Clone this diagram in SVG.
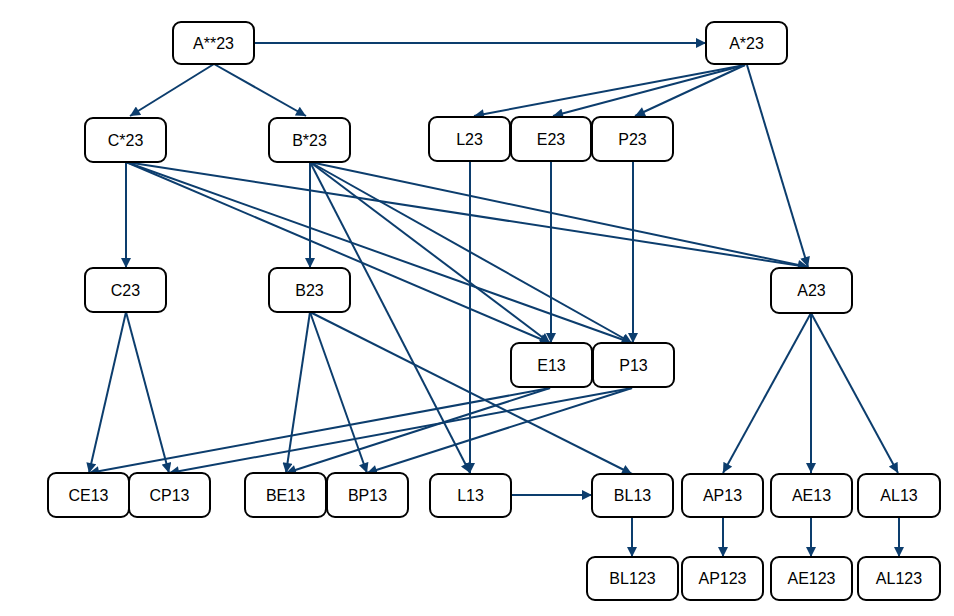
<svg xmlns="http://www.w3.org/2000/svg" width="954" height="616" viewBox="0 0 954 616">
<defs>
<marker id="ah" viewBox="0 0 10 10" refX="10" refY="5" markerWidth="11" markerHeight="10" markerUnits="userSpaceOnUse" orient="auto">
<path d="M0,0 L10,5 L0,10 z" fill="#0c3d6d"/>
</marker>
<style>
.n rect{fill:#fff;stroke:#000;stroke-width:2}
.n text{font-family:"Liberation Sans",Arial,sans-serif;font-size:16px;fill:#000;text-anchor:middle;dominant-baseline:central}
#edges line{stroke:#0c3d6d;stroke-width:2;marker-end:url(#ah)}
</style>
</defs>
<rect width="954" height="616" fill="#fff"/>
<g id="edges">
<line x1="254" y1="43" x2="706" y2="43"/>
<line x1="214" y1="64" x2="130" y2="116"/>
<line x1="214" y1="64" x2="306" y2="116"/>
<line x1="745" y1="65" x2="474" y2="116"/>
<line x1="745" y1="65" x2="553" y2="116"/>
<line x1="745" y1="65" x2="635" y2="116"/>
<line x1="747" y1="65" x2="808" y2="267"/>
<line x1="126" y1="162" x2="126" y2="268"/>
<line x1="126" y1="162" x2="808" y2="267"/>
<line x1="126" y1="162" x2="550" y2="343"/>
<line x1="126" y1="162" x2="632" y2="343"/>
<line x1="310" y1="162" x2="310" y2="268"/>
<line x1="310" y1="162" x2="808" y2="267"/>
<line x1="310" y1="162" x2="550" y2="343"/>
<line x1="310" y1="162" x2="632" y2="343"/>
<line x1="310" y1="162" x2="470" y2="473"/>
<line x1="470" y1="162" x2="470" y2="473"/>
<line x1="551" y1="162" x2="551" y2="343"/>
<line x1="633" y1="162" x2="633" y2="343"/>
<line x1="126" y1="312" x2="89" y2="473"/>
<line x1="126" y1="312" x2="169" y2="473"/>
<line x1="310" y1="312" x2="286" y2="473"/>
<line x1="310" y1="312" x2="367" y2="473"/>
<line x1="310" y1="312" x2="632" y2="474"/>
<line x1="550" y1="388" x2="89" y2="473"/>
<line x1="550" y1="388" x2="286" y2="473"/>
<line x1="632" y1="388" x2="169" y2="473"/>
<line x1="632" y1="388" x2="367" y2="473"/>
<line x1="811" y1="313" x2="723" y2="473"/>
<line x1="811" y1="313" x2="811" y2="473"/>
<line x1="811" y1="313" x2="898" y2="473"/>
<line x1="511" y1="495" x2="592" y2="495"/>
<line x1="632" y1="517" x2="632" y2="557"/>
<line x1="723" y1="517" x2="723" y2="557"/>
<line x1="811" y1="517" x2="811" y2="557"/>
<line x1="899" y1="517" x2="899" y2="557"/>
</g>
<g id="A2star2_23" class="n"><rect x="173" y="22" width="81" height="42" rx="8"/><text x="213.5" y="43">A**23</text></g>
<g id="Astar23" class="n"><rect x="706" y="22" width="81" height="42" rx="8"/><text x="746.5" y="43">A*23</text></g>
<g id="Cstar23" class="n"><rect x="85" y="118" width="81" height="44" rx="8"/><text x="125.5" y="140">C*23</text></g>
<g id="Bstar23" class="n"><rect x="269" y="118" width="81" height="44" rx="8"/><text x="309.5" y="140">B*23</text></g>
<g id="L23" class="n"><rect x="429" y="117" width="81" height="44" rx="8"/><text x="469.5" y="139">L23</text></g>
<g id="E23" class="n"><rect x="511" y="117" width="80" height="44" rx="8"/><text x="551" y="139">E23</text></g>
<g id="P23" class="n"><rect x="592" y="117" width="81" height="44" rx="8"/><text x="632.5" y="139">P23</text></g>
<g id="C23" class="n"><rect x="85" y="268" width="81" height="44" rx="8"/><text x="125.5" y="290">C23</text></g>
<g id="B23" class="n"><rect x="269" y="268" width="81" height="44" rx="8"/><text x="309.5" y="290">B23</text></g>
<g id="A23" class="n"><rect x="771" y="268" width="81" height="45" rx="8"/><text x="811.5" y="290.5">A23</text></g>
<g id="E13" class="n"><rect x="511" y="343" width="81" height="44" rx="8"/><text x="551.5" y="365">E13</text></g>
<g id="P13" class="n"><rect x="593" y="343" width="81" height="44" rx="8"/><text x="633.5" y="365">P13</text></g>
<g id="CE13" class="n"><rect x="48" y="473" width="81" height="44" rx="8"/><text x="88.5" y="495">CE13</text></g>
<g id="CP13" class="n"><rect x="129" y="473" width="81" height="44" rx="8"/><text x="169.5" y="495">CP13</text></g>
<g id="BE13" class="n"><rect x="245" y="473" width="81" height="44" rx="8"/><text x="285.5" y="495">BE13</text></g>
<g id="BP13" class="n"><rect x="327" y="473" width="81" height="44" rx="8"/><text x="367.5" y="495">BP13</text></g>
<g id="L13" class="n"><rect x="430" y="474" width="81" height="43" rx="8"/><text x="470.5" y="495.5">L13</text></g>
<g id="BL13" class="n"><rect x="592" y="474" width="81" height="43" rx="8"/><text x="632.5" y="495.5">BL13</text></g>
<g id="AP13" class="n"><rect x="682" y="474" width="81" height="43" rx="8"/><text x="722.5" y="495.5">AP13</text></g>
<g id="AE13" class="n"><rect x="771" y="474" width="81" height="43" rx="8"/><text x="811.5" y="495.5">AE13</text></g>
<g id="AL13" class="n"><rect x="858" y="474" width="82" height="43" rx="8"/><text x="899" y="495.5">AL13</text></g>
<g id="BL123" class="n"><rect x="587" y="557" width="91" height="43" rx="8"/><text x="632.5" y="578.5">BL123</text></g>
<g id="AP123" class="n"><rect x="682" y="557" width="81" height="43" rx="8"/><text x="722.5" y="578.5">AP123</text></g>
<g id="AE123" class="n"><rect x="771" y="557" width="81" height="43" rx="8"/><text x="811.5" y="578.5">AE123</text></g>
<g id="AL123" class="n"><rect x="858" y="557" width="82" height="43" rx="8"/><text x="899" y="578.5">AL123</text></g>
</svg>
